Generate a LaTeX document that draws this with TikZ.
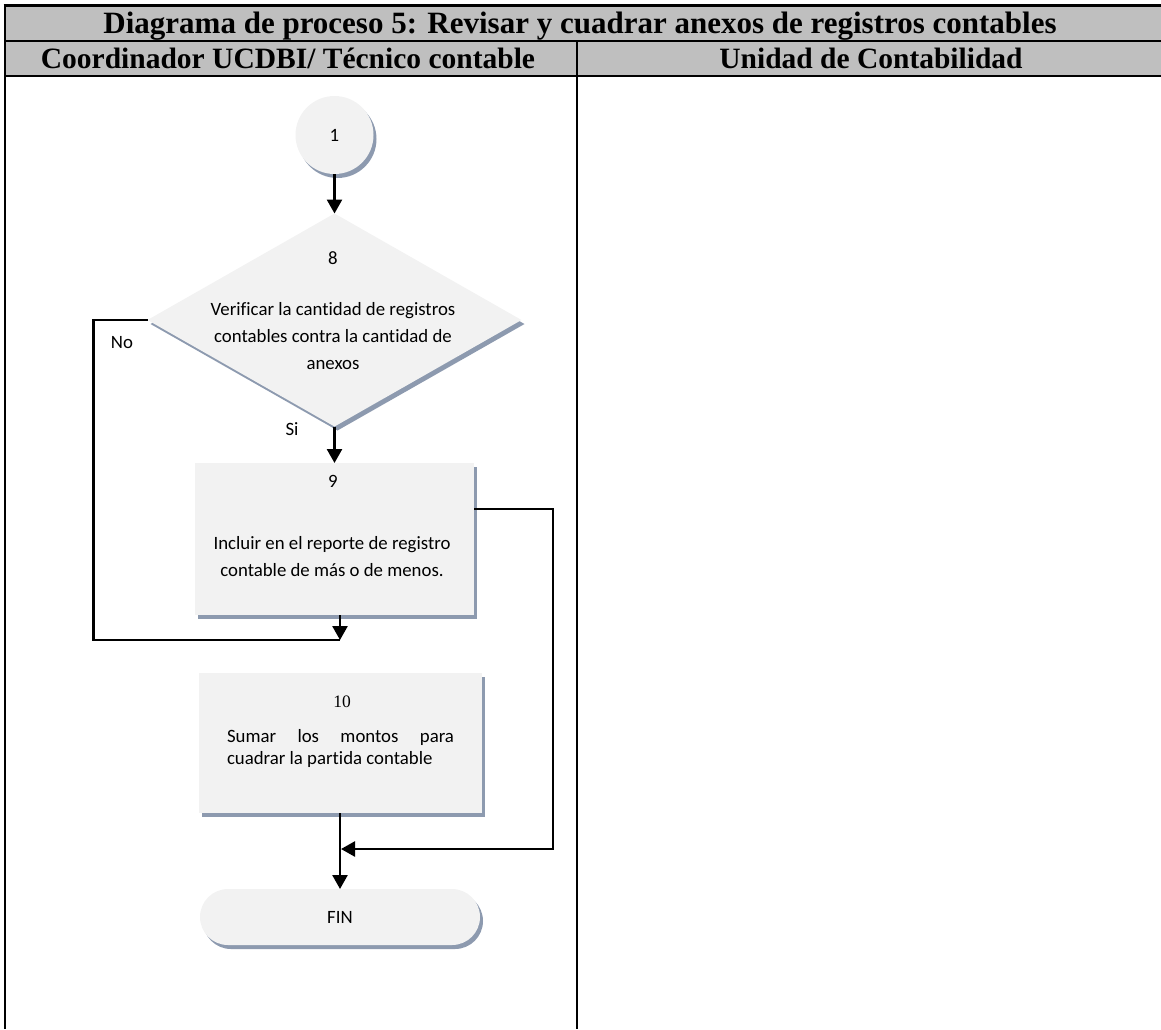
\documentclass[tikz,border=0pt]{standalone}
\usepackage{fontspec}
\setmainfont{Liberation Serif}
\newfontfamily\carl[Ligatures=NoCommon]{Carlito}
\usetikzlibrary{arrows.meta,shapes.geometric,shapes.misc,shadows}

\definecolor{hdrgray}{RGB}{191,191,191}
\definecolor{boxfill}{RGB}{242,242,242}
\definecolor{shadowc}{RGB}{141,154,175}

\begin{document}
\begin{tikzpicture}[x=1pt,y=-1pt,
  every node/.style={inner sep=0pt, outer sep=0pt},
  flow/.style={draw=none, fill=boxfill,
    drop shadow={shadow xshift=3pt, shadow yshift=-4pt, fill=shadowc, opacity=1}},
  lbl/.style={font=\carl\fontsize{18.8}{27}\selectfont, align=center},
  conn/.style={line width=2.6pt, draw=black},
  arr/.style={conn, -{Triangle[length=14pt,width=15pt]}},
  rule/.style={line width=2.8pt},
  hdr/.style={font=\fontsize{29.5}{32}\selectfont\bfseries, anchor=base}
]
\useasboundingbox (0,0) rectangle (1161,1029);

% table: header rows and swimlane rules
\fill[hdrgray] (5,5.7) rectangle (1161,76);
\draw[rule] (3.6,5.7) -- (1161,5.7);
\draw[rule] (5,41) -- (1161,41);
\draw[rule] (5,76) -- (1161,76);
\draw[rule] (5,4.3) -- (5,1029);
\draw[line width=2.4pt] (577,41) -- (577,1029);

\node[hdr, font=\fontsize{31}{34}\selectfont\bfseries] (title) at (580,33)
  {Diagrama de proceso 5: Revisar y cuadrar anexos de registros contables};
\node[hdr] (lane1) at (288,68) {Coordinador UCDBI/ Técnico contable};
\node[hdr] (lane2) at (871,68) {Unidad de Contabilidad};

% flow shapes
\node[flow, circle, minimum size=78pt, lbl] (c1) at (334.5,135) {1};

\node[flow, diamond, minimum width=374pt, minimum height=213pt] (d8) at (334.5,320) {};
\node[lbl] (t8n) at (333,258) {8};
\node[lbl] (t8) at (333,336) {Verificar la cantidad de registros\\contables contra la cantidad de\\anexos};

\node[flow, rectangle, minimum width=279pt, minimum height=152pt] (b9) at (334.5,539) {};
\node[lbl] (t9n) at (333,481) {9};
\node[lbl] (t9) at (332,557) {Incluir en el reporte de registro\\contable de más o de menos.};

\node[flow, rectangle, minimum width=283pt, minimum height=140pt] (b10) at (340.5,743) {};
\node[font=\fontsize{17.5}{20}\selectfont] (t10n) at (342,702) {10};
\node[lbl, text width=227pt, align=justify, font=\carl\fontsize{18.8}{22}\selectfont] (t10) at (340.5,748)
  {Sumar los montos para\linebreak cuadrar la partida contable};

\node[flow, rounded rectangle, minimum width=280pt, minimum height=56pt, lbl] (fin) at (340,917) {FIN};

% connectors
\coordinate (j1) at (340,640);
\coordinate (j2) at (341,849);

\draw[arr] (c1.south) -- (d8.north);
\draw[arr] (d8.south) -- (b9.north);
\node[lbl] (si) at (292,429) {Si};
\node[lbl] (no) at (122,343) {No};
\draw[conn] (d8.west) -- ++(-54,0) |- (j1);
\draw[arr] (b9.south -| j1) -- (j1);
\draw[arr] ([yshift=30pt]b9.east) -- ++(79,0) |- (j2);
\draw[arr] (b10.south -| fin.north) -- (fin.north);
\end{tikzpicture}
\end{document}
